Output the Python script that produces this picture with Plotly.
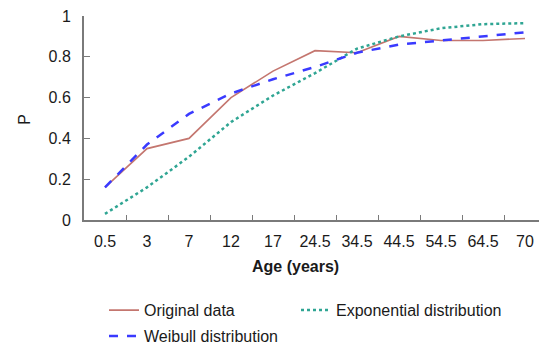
import plotly.graph_objects as go

ages = ["0.5", "3", "7", "12", "17", "24.5", "34.5", "44.5", "54.5", "64.5", "70"]
original = [0.16, 0.35, 0.40, 0.60, 0.73, 0.83, 0.82, 0.90, 0.88, 0.88, 0.89]
exponential = [0.03, 0.16, 0.31, 0.48, 0.61, 0.72, 0.84, 0.90, 0.94, 0.96, 0.965]
weibull = [0.16, 0.37, 0.52, 0.62, 0.69, 0.75, 0.82, 0.86, 0.88, 0.90, 0.92]
y_ticks = [0, 0.2, 0.4, 0.6, 0.8, 1]
y_ticktext = ["0", "0.2", "0.4", "0.6", "0.8", "1"]

FONT = "Liberation Sans, Arial, sans-serif"
PLOT_H = 204.5
BOTTOM = 220.5  # page y of the x axis

fig = go.Figure()
fig.add_trace(go.Scatter(x=ages, y=original, mode="lines", name="Original data",
                         legend="legend", legendgroup="a",
                         line=dict(color="#c4766f", width=1.6)))
fig.add_trace(go.Scatter(x=ages, y=exponential, mode="lines", name="Exponential distribution",
                         legend="legend2", legendgroup="b",
                         line=dict(color="#2fa593", width=2.5, dash="dot")))
fig.add_trace(go.Scatter(x=ages, y=weibull, mode="lines", name="Weibull distribution",
                         legend="legend", legendgroup="c",
                         line=dict(color="#3a3aff", width=2.5, dash="dash")))

legend_common = dict(orientation="v", yanchor="top", xanchor="left", tracegroupgap=2,
                     font=dict(size=16, family=FONT), bgcolor="rgba(0,0,0,0)")
leg_y = -(293.9 - BOTTOM) / PLOT_H

# page body has an 8px default margin, so the figure is sized to fit the window
fig.update_layout(
    width=539, height=337,
    margin=dict(l=76, r=1, t=8, b=124.5, autoexpand=False),
    paper_bgcolor="white", plot_bgcolor="white",
    font=dict(family=FONT, size=16, color="#1a1a1a"),
    showlegend=True,
    legend=dict(x=(104 - 84) / 462, y=leg_y, **legend_common),
    legend2=dict(x=(296 - 84) / 462, y=leg_y, **legend_common),
)
fig.update_xaxes(type="category", range=[-0.5, len(ages) - 0.5], showline=True,
                 linecolor="#7a7a7a", linewidth=2,
                 ticks="inside", tickson="boundaries", ticklen=5, tickcolor="#7a7a7a",
                 tickwidth=1.2, showgrid=False, zeroline=False,
                 tickfont=dict(size=16), ticklabelstandoff=6, ticklabeloverflow="allow")
fig.update_yaxes(range=[0, 1], tickvals=y_ticks, ticktext=y_ticktext, showline=True,
                 linecolor="#7a7a7a", linewidth=2, ticks="inside", ticklen=6,
                 tickcolor="#7a7a7a", tickwidth=1.2, showgrid=False, zeroline=False,
                 tickfont=dict(size=16), ticklabelstandoff=8, ticklabeloverflow="allow")
fig.add_annotation(text="<b>Age (years)</b>", xref="paper", yref="paper",
                   x=(295 - 84) / 462, y=(BOTTOM - 267) / PLOT_H, xanchor="center",
                   yanchor="middle", showarrow=False, font=dict(size=16, family=FONT))
fig.add_annotation(text="P", xref="paper", yref="paper", textangle=-90,
                   x=(25 - 84) / 462, y=(BOTTOM - 120) / PLOT_H, xanchor="center",
                   yanchor="middle", showarrow=False, font=dict(size=16, family=FONT))

fig.write_html("out.html")
